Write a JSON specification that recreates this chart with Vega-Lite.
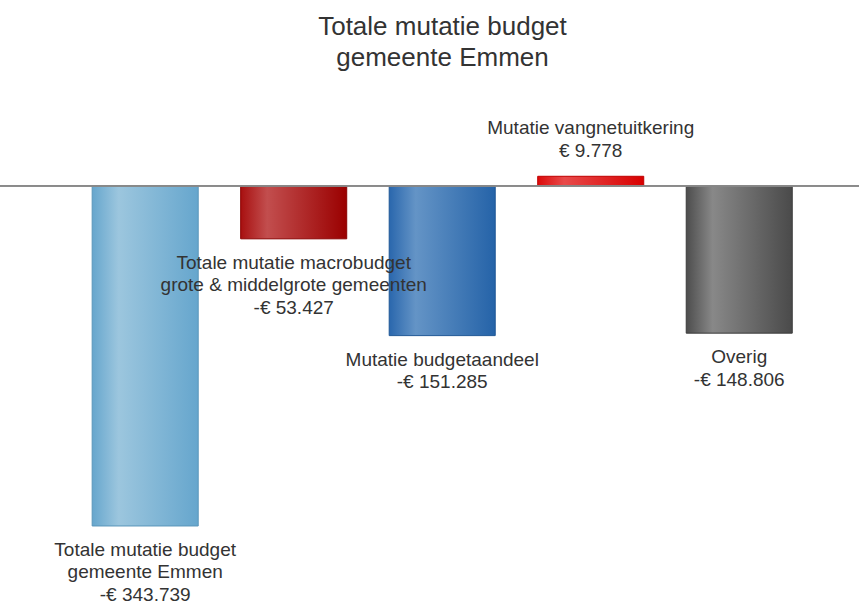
{
  "$schema": "https://vega.github.io/schema/vega-lite/v6.json",
  "width": 859,
  "height": 603,
  "autosize": "none",
  "padding": 0,
  "background": "white",
  "config": {"view": {"stroke": null}},
  "title": {
    "text": ["Totale mutatie budget", "gemeente Emmen"],
    "font": "Liberation Sans",
    "fontSize": 26,
    "fontWeight": "normal",
    "color": "#333333",
    "lineHeight": 31,
    "offset": -71,
    "anchor": "middle",
    "dx": 13
  },
  "data": {
    "values": [
      {"cat": "Totale mutatie budget gemeente Emmen", "value": -343.739, "label": ["Totale mutatie budget", "gemeente Emmen", "-€ 343.739"]},
      {"cat": "Totale mutatie macrobudget", "value": -53.427, "label": ["Totale mutatie macrobudget", "grote & middelgrote gemeenten", "-€ 53.427"]},
      {"cat": "Mutatie budgetaandeel", "value": -151.285, "label": ["Mutatie budgetaandeel", "-€ 151.285"]},
      {"cat": "Mutatie vangnetuitkering", "value": 9.778, "label": ["Mutatie vangnetuitkering", "€ 9.778"]},
      {"cat": "Overig", "value": -148.806, "label": ["Overig", "-€ 148.806"]}
    ]
  },
  "encoding": {
    "x": {"field": "cat", "type": "nominal", "sort": null, "axis": null,
          "scale": {"paddingInner": 0.286, "paddingOuter": 0.535, "align": 0.58}},
    "y": {"field": "value", "type": "quantitative", "axis": null,
          "scale": {"domain": [-421.6, 188], "nice": false, "zero": false}}
  },
  "layer": [
    {
      "transform": [{"filter": "datum.cat == 'Totale mutatie budget gemeente Emmen'"}],
      "mark": {"type": "bar", "strokeWidth": 1, "stroke": "#5a95ba",
        "color": {"gradient": "linear", "x1": 0, "x2": 1, "y1": 0, "y2": 0, "stops": [{"offset": 0, "color": "#66a6cd"}, {"offset": 0.25, "color": "#9cc6de"}, {"offset": 1, "color": "#66a6cd"}]}}
    },
    {
      "transform": [{"filter": "datum.cat == 'Totale mutatie macrobudget'"}],
      "mark": {"type": "bar", "strokeWidth": 1, "stroke": "#8a0000",
        "color": {"gradient": "linear", "x1": 0, "x2": 1, "y1": 0, "y2": 0, "stops": [{"offset": 0, "color": "#a81010"}, {"offset": 0.25, "color": "#c24e4e"}, {"offset": 1, "color": "#9a0000"}]}}
    },
    {
      "transform": [{"filter": "datum.cat == 'Mutatie budgetaandeel'"}],
      "mark": {"type": "bar", "strokeWidth": 1, "stroke": "#1f5795",
        "color": {"gradient": "linear", "x1": 0, "x2": 1, "y1": 0, "y2": 0, "stops": [{"offset": 0, "color": "#2a67ad"}, {"offset": 0.25, "color": "#6494c6"}, {"offset": 1, "color": "#2563a8"}]}}
    },
    {
      "transform": [{"filter": "datum.cat == 'Mutatie vangnetuitkering'"}],
      "mark": {"type": "bar", "strokeWidth": 1, "stroke": "#c00000",
        "color": {"gradient": "linear", "x1": 0, "x2": 1, "y1": 0, "y2": 0, "stops": [{"offset": 0, "color": "#dc0a0a"}, {"offset": 0.25, "color": "#e84a4a"}, {"offset": 1, "color": "#d80000"}]}}
    },
    {
      "transform": [{"filter": "datum.cat == 'Overig'"}],
      "mark": {"type": "bar", "strokeWidth": 1, "stroke": "#3c3c3c",
        "color": {"gradient": "linear", "x1": 0, "x2": 1, "y1": 0, "y2": 0, "stops": [{"offset": 0, "color": "#4d4d4d"}, {"offset": 0.25, "color": "#888888"}, {"offset": 1, "color": "#4a4a4a"}]}}
    },
    {
      "mark": {"type": "rule", "color": "#888888", "strokeWidth": 1},
      "encoding": {"x": null, "y": {"datum": 0, "type": "quantitative"}}
    },
    {
      "transform": [{"filter": "datum.value < 0"}],
      "mark": {"type": "text", "baseline": "alphabetic", "align": "center", "dy": 30, "font": "Liberation Sans", "fontSize": 19, "lineHeight": 22.5, "color": "#333333"},
      "encoding": {"text": {"field": "label"}}
    },
    {
      "transform": [{"filter": "datum.value > 0"}],
      "mark": {"type": "text", "baseline": "alphabetic", "align": "center", "dy": -42, "font": "Liberation Sans", "fontSize": 19, "lineHeight": 22.5, "color": "#333333"},
      "encoding": {"text": {"field": "label"}}
    }
  ]
}
